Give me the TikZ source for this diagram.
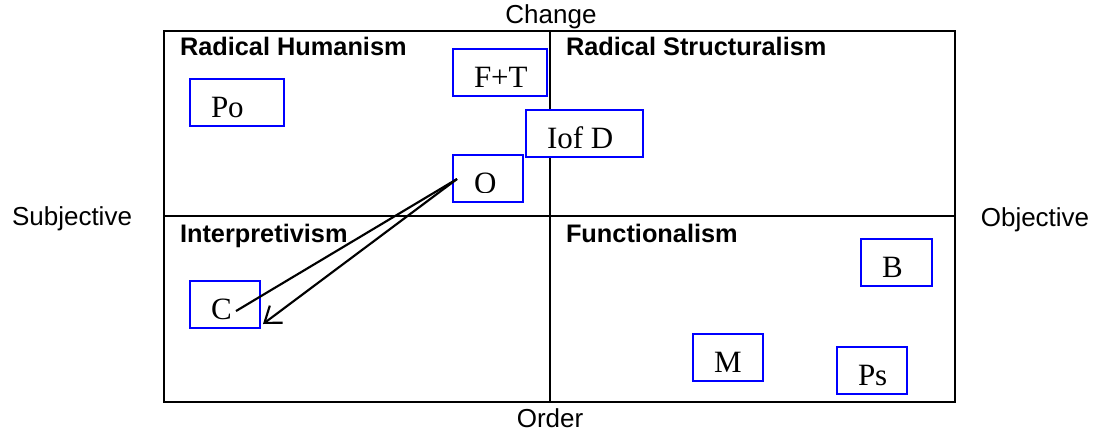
\documentclass[tikz,border=0pt]{standalone}
\usepackage{fontspec}
\setmainfont{Liberation Serif}
\setsansfont{Liberation Sans}
\usetikzlibrary{arrows.meta, positioning}
\definecolor{cblue}{HTML}{0000FF}
\tikzset{
  every picture/.style={line width=1.5pt},
  axislabel/.style={font=\sffamily\fontsize{19.5}{22}\selectfont, anchor=base, inner sep=0pt},
  quadtitle/.style={font=\sffamily\bfseries\fontsize{19}{22}\selectfont, anchor=base west, inner sep=0pt},
  itembox/.style={draw=cblue, fill=white, inner sep=0pt, minimum height=35.25pt,
    path picture={
      \clip (path picture bounding box.north west) rectangle ([yshift=-28.6pt]path picture bounding box.north east);
      \node[anchor=base west, inner sep=0pt, minimum width=0pt, minimum height=0pt, draw=none, fill=none,
        font=\fontsize{23.25}{26}\selectfont]
        at ([xshift=15pt, yshift=-28.9pt]path picture bounding box.north west) {#1};
    }},
  link/.style={black, line width=1.6pt},
}

\begin{document}
\begin{tikzpicture}[x=0.75pt, y=0.75pt]
  \useasboundingbox (0,0) rectangle (1095,-433);
  % quadrant grid
  \draw (164,-31) rectangle (955,-402);
  \draw (550,-31) -- (550,-402);
  \draw (164,-216) -- (955,-216);
  % axis labels
  \node[axislabel] (change) at (551,-23) {Change};
  \node[axislabel] (order) at (550,-427) {Order};
  \node[axislabel] (subj) at (72,-225) {Subjective};
  \node[axislabel] (obj) at (1035,-226) {Objective};
  % quadrant titles
  \node[quadtitle] (rh) at (179,-55) {Radical Humanism};
  \node[quadtitle] (rs) at (565,-55) {Radical Structuralism};
  \node[quadtitle] (ip) at (179,-242) {Interpretivism};
  \node[quadtitle] (fn) at (565,-242) {Functionalism};
  % items
  \node[itembox=Po, minimum width=70.5pt] (po) at (237,-102.5) {};
  \node[itembox=F+T, minimum width=70.5pt] (ft) at (500,-72) {};
  \node[itembox=Iof D, minimum width=87.75pt] (iofd) at (584.5,-133.5) {};
  \node[itembox=O, minimum width=52.5pt] (o) at (488,-178) {};
  \node[itembox=C, minimum width=52.5pt] (c) at (225,-304.5) {};
  \node[itembox=B, minimum width=53.25pt] (b) at (896.5,-262.5) {};
  \node[itembox=M, minimum width=52.5pt] (m) at (728,-357.5) {};
  \node[itembox=Ps, minimum width=52.5pt] (ps) at (872,-370.5) {};
  % links from O to C
  \coordinate (ostart) at ([xshift=3.75pt, yshift=-0.75pt]o.west);
  \draw[link] (ostart) -- ([xshift=8.25pt, yshift=-4.9pt]c.center);
  \draw[link, -{Straight Barb[length=11pt, width=16pt]}] (ostart) -- ([xshift=1.5pt, yshift=3.75pt]c.south east);
\end{tikzpicture}
\end{document}
